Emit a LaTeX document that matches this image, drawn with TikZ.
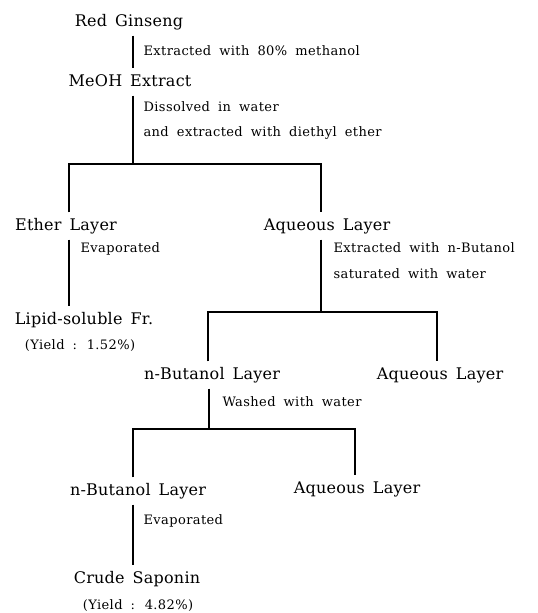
\documentclass[tikz,border=0pt]{standalone}
\usepackage{fontspec}
\setmainfont{DejaVu Serif}
\newfontfamily\layerfont[LetterSpace=1.5,WordSpace=1.5]{DejaVu Serif}
\newfontfamily\notefont[LetterSpace=3,WordSpace=1.8]{DejaVu Serif}
\usepackage{tikz}

\begin{document}
\begin{tikzpicture}[x=1pt, y=-1pt, line width=1.2pt,
  layer/.style={anchor=base, inner xsep=0pt, inner ysep=6pt, text height=11pt, text depth=3pt,
    font=\layerfont\fontsize{16}{18}\selectfont},
  note/.style={anchor=base west, inner sep=0pt, font=\notefont\fontsize{13}{15}\selectfont},
  yield/.style={anchor=base, inner sep=0pt, font=\notefont\fontsize{13}{15}\selectfont}]
  \useasboundingbox (0,0) rectangle (538,613);

  \node[layer] (rg)    at (129,  26) {Red Ginseng};
  \node[layer] (meoh)  at (130,  86) {MeOH Extract};
  \node[layer] (ether) at (66,  230) {Ether Layer};
  \node[layer] (aq1)   at (327, 230) {Aqueous Layer};
  \node[layer] (lipid) at (84,  324) {Lipid-soluble Fr.};
  \node[yield] (y1)    at (80,  349) {(Yield : 1.52\%)};
  \node[layer] (bu1)   at (212, 379) {n-Butanol Layer};
  \node[layer] (aq2)   at (440, 379) {Aqueous Layer};
  \node[layer] (bu2)   at (138, 495) {n-Butanol Layer};
  \node[layer] (aq3)   at (357, 493) {Aqueous Layer};
  \node[layer] (crude) at (137, 583) {Crude Saponin};
  \node[yield] (y2)    at (138, 609) {(Yield : 4.82\%)};

  \node[note] (n1) at (143,  55) {Extracted with 80\% methanol};
  \node[note] (n2) at (143, 111) {Dissolved in water};
  \node[note] (n3) at (143, 136) {and extracted with diethyl ether};
  \node[note] (n4) at (80,  252) {Evaporated};
  \node[note] (n5) at (333, 252) {Extracted with n-Butanol};
  \node[note] (n6) at (333, 278) {saturated with water};
  \node[note] (n7) at (222, 406) {Washed with water};
  \node[note] (n8) at (143, 524) {Evaporated};

  \coordinate (j1)  at (133, 164);
  \coordinate (j1a) at (69,  164);
  \coordinate (j1b) at (321, 164);
  \coordinate (j2)  at (321, 312);
  \coordinate (j2a) at (208, 312);
  \coordinate (j2b) at (437, 312);
  \coordinate (j3)  at (209, 429);
  \coordinate (j3a) at (133, 429);
  \coordinate (j3b) at (355, 429);

  \draw (rg.south -| j1) -- (meoh.north -| j1);
  \draw (meoh.south -| j1) -- (j1);
  \draw (ether.north -| j1a) |- (j1b) -- (aq1.north -| j1b);
  \draw (ether.south -| j1a) -- (lipid.north -| j1a);
  \draw (aq1.south -| j2) -- (j2);
  \draw (bu1.north -| j2a) |- (j2b) -- (aq2.north -| j2b);
  \draw (bu1.south -| j3) -- (j3);
  \draw (bu2.north -| j3a) |- (j3b) -- (aq3.north -| j3b);
  \draw (bu2.south -| j3a) -- (crude.north -| j3a);
\end{tikzpicture}
\end{document}
